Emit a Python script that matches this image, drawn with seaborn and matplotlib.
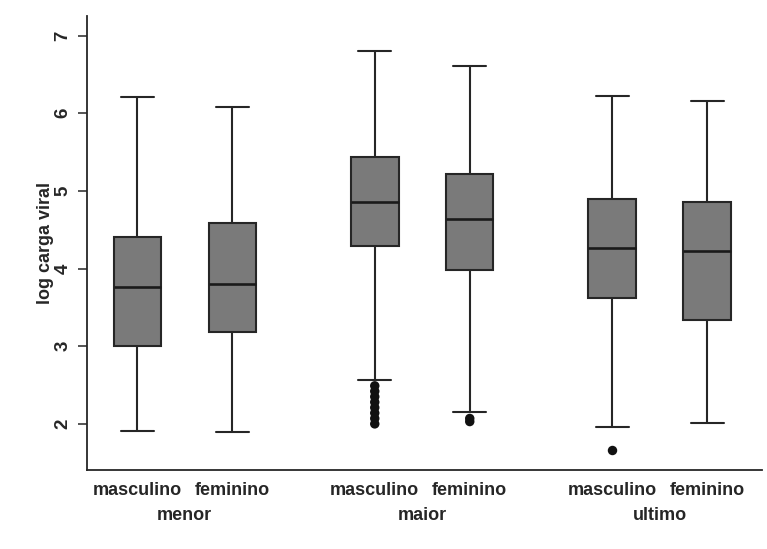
import pandas as pd
import seaborn as sns
import matplotlib.pyplot as plt

# categories
groups = ['menor', 'maior', 'ultimo']
sexes = ['masculino', 'feminino']

# five number summaries: low whisker, Q1, median, Q3, high whisker
menor_masc = [1.91, 3.005, 3.765, 4.40, 6.205]
menor_fem = [1.90, 3.18, 3.795, 4.58, 6.085]
maior_masc = [2.57, 4.295, 4.855, 5.44, 6.80]
maior_fem = [2.155, 3.98, 4.64, 5.22, 6.61]
ultimo_masc = [1.96, 3.625, 4.27, 4.895, 6.215]
ultimo_fem = [2.005, 3.335, 4.23, 4.855, 6.16]

# outliers below the low whisker
maior_masc_out = [2.0, 2.07, 2.14, 2.21, 2.28, 2.35, 2.42, 2.49]
maior_fem_out = [2.03, 2.07]
ultimo_masc_out = [1.66]

fill = '#7a7a7a'
line = '#262626'

summaries = {
    ('menor', 'masculino'): menor_masc,
    ('menor', 'feminino'): menor_fem,
    ('maior', 'masculino'): maior_masc,
    ('maior', 'feminino'): maior_fem,
    ('ultimo', 'masculino'): ultimo_masc,
    ('ultimo', 'feminino'): ultimo_fem,
}
outliers = {
    ('maior', 'masculino'): maior_masc_out,
    ('maior', 'feminino'): maior_fem_out,
    ('ultimo', 'masculino'): ultimo_masc_out,
}

rows = [(g, s, v) for (g, s), vals in summaries.items() for v in vals]
df = pd.DataFrame(rows, columns=['grupo', 'sexo', 'valor'])
rows = [(g, s, v) for (g, s), vals in outliers.items() for v in vals]
df_out = pd.DataFrame(rows, columns=['grupo', 'sexo', 'valor'])

sns.set_style('white')
plt.rcParams['font.family'] = ['Liberation Sans', 'DejaVu Sans']
plt.rcParams['font.weight'] = 'bold'

fig, ax = plt.subplots(figsize=(7.67, 5.49), dpi=100)
fig.subplots_adjust(left=0.113, right=0.993, top=0.970, bottom=0.143)

sns.boxplot(data=df, x='grupo', y='valor', hue='sexo', order=groups,
            hue_order=sexes, whis=(0, 100), width=0.8, gap=0.5,
            palette=[fill, fill], linecolor=line, linewidth=1.5,
            showfliers=False, capwidths=0.14, saturation=1,
            medianprops={'linewidth': 1.9, 'color': '#1a1a1a'},
            legend=False, ax=ax)
sns.stripplot(data=df_out, x='grupo', y='valor', hue='sexo', order=groups,
              hue_order=sexes, dodge=True, jitter=False,
              palette=['#111111', '#111111'], size=6.8, linewidth=0,
              legend=False, ax=ax)

ax.set_xlim(-0.413, 2.429)
ax.set_ylim(1.40, 7.245)
ax.set_yticks([2, 3, 4, 5, 6, 7])
for t in ax.get_yticklabels():
    t.set_rotation(90)
    t.set_va('center')
ax.set_xticks([g + d for g in range(3) for d in (-0.2, 0.2)], labels=sexes * 3)
ax.set_xticks(range(3), labels=groups, minor=True)
ax.tick_params(axis='x', which='both', length=0, labelsize=13)
ax.tick_params(axis='x', which='major', pad=8)
ax.tick_params(axis='x', which='minor', pad=26)
ax.tick_params(axis='y', length=6.5, width=1.1, color=line, pad=4.5,
               labelsize=13.5, left=True)
ax.set_xlabel('')
ax.set_ylabel('log carga viral', fontsize=13, fontweight='bold', labelpad=0)

sns.despine(ax=ax)
for sp in ['left', 'bottom']:
    ax.spines[sp].set_color(line)
    ax.spines[sp].set_linewidth(1.3)

plt.savefig('out.png', dpi=100)
plt.close()
